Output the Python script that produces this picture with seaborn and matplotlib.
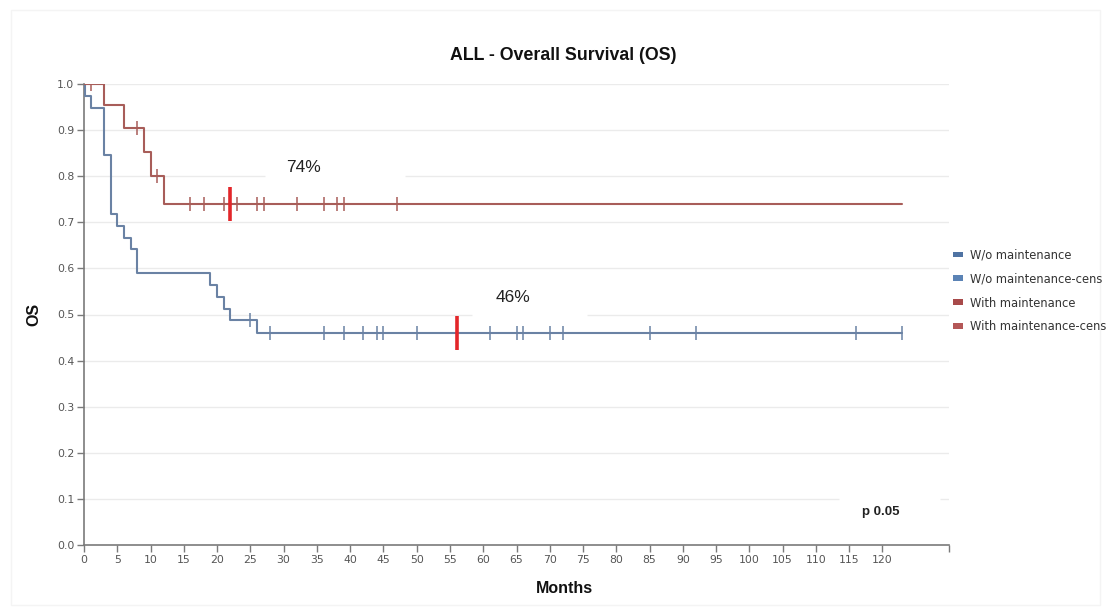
import numpy as np
import pandas as pd
import matplotlib
matplotlib.use("Agg")
import matplotlib.pyplot as plt
from matplotlib.patches import Patch, Rectangle
import seaborn as sns

# Kaplan-Meier steps: month of each step and survival after it
wo_months = [0, 0.2, 1, 3, 4, 5, 6, 7, 8, 19, 20, 21, 22, 26]
wo_surv = [1.0, 0.974, 0.949, 0.846, 0.718, 0.692, 0.667, 0.641, 0.590,
           0.564, 0.538, 0.513, 0.487, 0.46]
wo_end = 123
wo_censored = [25, 28, 36, 39, 42, 44, 45, 50, 61, 65, 66, 70, 72, 85, 92, 116, 123]

with_months = [0, 3, 6, 9, 10, 12]
with_surv = [1.0, 0.955, 0.905, 0.852, 0.80, 0.74]
with_end = 123
with_censored = [1, 8, 11, 16, 18, 21, 23, 26, 27, 32, 36, 38, 39, 47]

# highlighted follow-up markers (months)
with_marker = 22
wo_marker = 56

p_text = "p 0.05"
x_ticks = list(range(0, 121, 5))
y_ticks = [round(v / 10, 1) for v in range(0, 11)]

groups = ["W/o maintenance", "With maintenance"]
line_colors = {"W/o maintenance": "#6a82a4", "With maintenance": "#a85d59"}
legend_labels = ["W/o maintenance", "W/o maintenance-cens",
                 "With maintenance", "With maintenance-cens"]
legend_colors = ["#4f73a3", "#5b83b5", "#a84a4a", "#b45757"]


def step_value(months, surv, t):
    idx = np.searchsorted(np.asarray(months), t, side="right") - 1
    return np.asarray(surv)[idx]


rows = []
for g, m, s, end in [(groups[0], wo_months, wo_surv, wo_end),
                     (groups[1], with_months, with_surv, with_end)]:
    for mi, si in zip(m + [end], s + [s[-1]]):
        rows.append({"group": g, "month": mi, "surv": si})
curves = pd.DataFrame(rows)

cens_rows = []
for g, m, s, c in [(groups[0], wo_months, wo_surv, wo_censored),
                   (groups[1], with_months, with_surv, with_censored)]:
    for t in c:
        cens_rows.append({"group": g, "month": t, "surv": step_value(m, s, t)})
cens = pd.DataFrame(cens_rows)

sns.set_style("white")
plt.rcParams["font.family"] = ["DejaVu Sans"]

fig = plt.figure(figsize=(11.1, 6.1), dpi=100)
fig.patch.set_facecolor("white")
fig.add_artist(Rectangle((11 / 1110, 5 / 610), 1089 / 1110, 595 / 610,
                         transform=fig.transFigure, fill=False,
                         edgecolor="#f4f4f4", linewidth=1.0))

ax = fig.add_axes([84 / 1110, 65 / 610, 865 / 1110, 461 / 610])
ax.set_xlim(0, 130)
ax.set_ylim(0, 1.0)

for y in y_ticks[1:]:
    ax.axhline(y, color="#ebebeb", linewidth=1.0, zorder=0)

sns.lineplot(data=curves, x="month", y="surv", hue="group", palette=line_colors,
             drawstyle="steps-post", estimator=None, sort=False, legend=False,
             linewidth=1.5, ax=ax, zorder=3)

for g in groups:
    sub = cens[cens["group"] == g]
    ax.plot(sub["month"], sub["surv"], linestyle="none", marker="|",
            markersize=9.5, markeredgewidth=1.1, color=line_colors[g], zorder=4)

# follow-up markers on each curve
half = 0.037
for t, m, s in [(with_marker, with_months, with_surv),
                (wo_marker, wo_months, wo_surv)]:
    v = step_value(m, s, t)
    ax.vlines(t, v - half, v + half, color="#e3262a", linewidth=2.6, zorder=5)

# plateau labels, each clearing the gridline just beneath it
label_spots = [(with_surv[-1], 33, 0.818, 0.8, (27.2, 48.3)),
               (wo_surv[-1], 64.4, 0.536, 0.5, (58.3, 75.6))]
for v, xm, yv, grid_y, (g0, g1) in label_spots:
    ax.hlines(grid_y, g0, g1, color="white", linewidth=2.2, zorder=1)
    ax.text(xm, yv, f"{round(v * 100)}%", ha="center", va="center",
            fontsize=12.5, color="#222222", family="Liberation Sans", zorder=2)

ax.hlines(0.1, 113.4, 128.7, color="white", linewidth=2.2, zorder=1)
ax.text(119.7, 0.072, p_text, ha="center", va="center", fontsize=9.5,
        fontweight="bold", color="#222222", family="Liberation Sans", zorder=2)

ax.set_xticks(x_ticks)
ax.set_xticklabels([str(t) for t in x_ticks])
ax.set_xticks([130], minor=True)
ax.set_yticks(y_ticks)
ax.set_yticklabels([f"{t:.1f}" for t in y_ticks])
ax.tick_params(axis="both", which="both", direction="out", length=5, width=1,
               color="#7a7a7a", labelsize=7.8, labelcolor="#555555",
               bottom=True, left=True)
ax.tick_params(axis="x", pad=2)
ax.tick_params(axis="y", pad=2)

for side in ["top", "right"]:
    ax.spines[side].set_visible(False)
for side in ["left", "bottom"]:
    ax.spines[side].set_color("#7a7a7a")
    ax.spines[side].set_linewidth(1.2)

ax.set_xlabel("Months", fontsize=11.5, fontweight="bold", family="Liberation Sans",
              color="#111111")
ax.xaxis.set_label_coords((564 - 84) / 865, -(581 - 545) / 461)
ax.set_ylabel("OS", fontsize=11.5, fontweight="bold", family="Liberation Sans",
              color="#111111")
ax.yaxis.set_label_coords(-(84 - 41) / 865, (545 - 314) / 461)

fig.text(563 / 1110, 1 - 55 / 610, "ALL - Overall Survival (OS)", ha="center",
         va="center", fontsize=12.8, fontweight="bold", family="Liberation Sans",
         color="#111111")

handles = [Patch(facecolor=c, edgecolor="none") for c in legend_colors]
fig.legend(handles, legend_labels, loc="upper left",
           bbox_to_anchor=(948 / 1110, 1 - 244 / 610), frameon=False,
           fontsize=8.3, labelcolor="#333333", handlelength=0.9,
           handleheight=0.42, handletextpad=0.6, labelspacing=0.95,
           borderaxespad=0)

fig.savefig("out.png", dpi=100, facecolor="white")
